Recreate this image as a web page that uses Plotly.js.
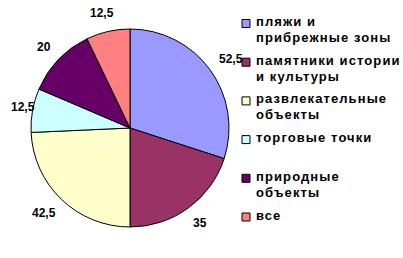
<!DOCTYPE html>
<html><head><meta charset="utf-8">
<script src="https://cdn.plot.ly/plotly-3.0.1.min.js"></script>
<style>
html,body{margin:0;padding:0;background:#fff}
#chart{width:403px;height:258px}
text.annotation-text[style*="sans-serif"]{letter-spacing:1.1px}
</style></head>
<body><div id="chart"></div>
<script>
const categories = ['пляжи и<br>прибрежные зоны', 'памятники истории<br>и культуры', 'развлекательные<br>объекты', 'торговые точки', 'природные<br>объекты', 'все'];
const values = [52.5, 35, 42.5, 12.5, 20, 12.5];
const colors = ['#9999FF', '#993366', '#FFFFCC', '#CCFFFF', '#660066', '#FF8080'];

const W = 403, H = 258;
const cx = 130, cy = 128, r = 99;

const trace = {
  type: 'pie',
  labels: categories,
  values: values,
  sort: false,
  direction: 'clockwise',
  rotation: 0,
  marker: {colors: colors, line: {color: '#000', width: 1}},
  textinfo: 'none',
  hoverinfo: 'none',
  showlegend: false,
  domain: {x: [(cx - r) / W, (cx + r) / W], y: [(H - cy - r) / H, (H - cy + r) / H]}
};

const shapes = [], annotations = [];

// value labels placed outside each slice, derived from the values
const total = values.reduce((a, b) => a + b, 0);
const labR = 113, lw = 6, lh = 9;
let cum = 0;
values.forEach((v) => {
  const th = (cum + v / 2) / total * 2 * Math.PI;
  cum += v;
  const s = Math.sin(th), c = Math.cos(th);
  const txt = String(v).replace('.', ',');
  const w = txt.length * lw;
  let x = cx + labR * s + (w / 2) * s;
  let y = cy - labR * c - (lh / 2) * c;
  x = Math.max(x, 11 + w / 2);
  annotations.push({xref: 'paper', yref: 'paper', x: x / W, y: 1 - y / H,
    xanchor: 'center', yanchor: 'middle', showarrow: false, text: txt,
    font: {family: 'Liberation Sans', size: 12, color: '#000', weight: 700}});
});

// legend built from categories & colors
const legX = 242, legTextX = 254, legY0 = 21.5, stride = 38.7, lineH = 16, sq = 8;
categories.forEach((cat, i) => {
  const y = legY0 + stride * i;
  shapes.push({type: 'rect', xref: 'paper', yref: 'paper',
    x0: legX / W, x1: (legX + sq) / W, y0: 1 - (y + 2 - sq / 2) / H, y1: 1 - (y + 2 + sq / 2) / H,
    fillcolor: colors[i], line: {color: '#000', width: 1}});
  cat.split('<br>').forEach((ln, j) => {
    annotations.push({xref: 'paper', yref: 'paper', x: legTextX / W, y: 1 - (y + j * lineH) / H,
      xanchor: 'left', yanchor: 'middle', showarrow: false, text: ln,
      font: {family: 'Liberation Sans, sans-serif', size: 13, color: '#000', weight: 700}});
  });
});

const layout = {
  width: W, height: H,
  margin: {l: 0, r: 0, t: 0, b: 0},
  paper_bgcolor: '#fff', plot_bgcolor: '#fff',
  separators: ', ',
  showlegend: false,
  shapes: shapes,
  annotations: annotations
};
Plotly.newPlot('chart', [trace], layout, {displayModeBar: false, staticPlot: true});
</script></body></html>
